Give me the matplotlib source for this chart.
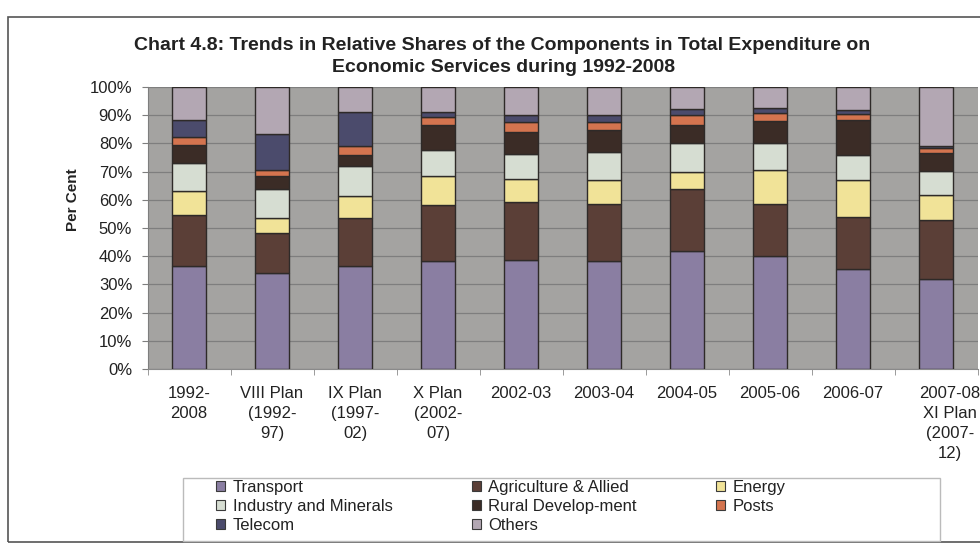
import matplotlib
matplotlib.use("Agg")
import matplotlib.pyplot as plt
import matplotlib.transforms as mtransforms
from matplotlib.patches import Rectangle, Patch
import numpy as np

plt.rcParams['font.family'] = ['Liberation Sans', 'DejaVu Sans']

categories = ["1992-\n2008", "VIII Plan\n(1992-\n97)", "IX Plan\n(1997-\n02)",
              "X Plan\n(2002-\n07)", "2002-03", "2003-04", "2004-05", "2005-06",
              "2006-07", "2007-08\nXI Plan\n(2007-\n12)"]

transport   = [36.4, 34.2, 36.5, 38.2, 38.6, 38.3, 41.8, 39.9, 35.3, 31.9]
agriculture = [18.2, 14.2, 16.9, 20.0, 20.5, 20.2, 22.0, 18.5, 18.6, 20.8]
energy      = [8.5, 5.0, 8.1, 10.1, 8.2, 8.5, 6.0, 12.3, 13.1, 9.0]
industry    = [10.0, 10.4, 10.6, 9.5, 9.0, 9.9, 10.4, 9.5, 8.9, 8.6]
rural       = [6.5, 4.8, 3.9, 8.8, 7.6, 7.7, 6.5, 7.9, 12.5, 6.2]
posts       = [2.5, 2.1, 3.2, 2.7, 3.6, 2.9, 3.3, 2.6, 2.1, 2.0]
telecom     = [6.2, 12.7, 11.9, 1.7, 2.7, 2.4, 2.3, 1.9, 1.2, 0.7]
others      = [11.7, 16.6, 8.9, 9.0, 9.8, 10.1, 7.7, 7.4, 8.3, 20.8]

series_names = ["Transport", "Agriculture & Allied", "Energy", "Industry and Minerals",
                "Rural Develop-ment", "Posts", "Telecom", "Others"]
series_vals = [transport, agriculture, energy, industry, rural, posts, telecom, others]
colors = ["#8a7ea2", "#5b3f37", "#f1e398", "#d6ddd2", "#3b2c26", "#d4744f",
          "#4b4b6c", "#b3a7b3"]

fig = plt.figure(figsize=(9.8, 5.44), dpi=100)
W, H = 980, 544
def fx(px): return px / W
def fy(py): return 1 - py / H

ax = fig.add_axes([fx(147.5), fy(369), fx(977.5) - fx(147.5), fy(87) - fy(369)])
ax.set_facecolor("#a4a3a1")

x = np.arange(len(categories))
bottom = np.zeros(len(categories))
handles = []
for name, vals, c in zip(series_names, series_vals, colors):
    v = np.array(vals)
    ax.bar(x, v, width=0.42, bottom=bottom, color=c, edgecolor="#2e2a28",
           linewidth=1.0, zorder=3)
    bottom += v
    handles.append(Patch(facecolor=c, edgecolor="#3a3a3a", linewidth=0.8, label=name))

ax.set_xlim(-0.5, len(categories) - 0.5)
ax.set_ylim(0, 100)
ax.set_yticks(np.arange(0, 101, 10))
ax.set_yticklabels([f"{v}%" for v in range(0, 101, 10)], fontsize=12, color="#222222")
ax.yaxis.grid(True, color="#7e7e7e", linewidth=0.9, zorder=0)
ax.set_axisbelow(True)
ax.tick_params(axis="y", length=4, color="#7e7e7e", pad=7)

ax.set_xticks(x)
ax.set_xticklabels(categories, fontsize=12, color="#222222", linespacing=1.42)
ax.set_xticks(np.arange(-0.5, len(categories), 1), minor=True)
ax.tick_params(axis="x", which="major", length=0, pad=12)
ax.tick_params(axis="x", which="minor", length=4, color="#8a8a8a")
lbls = ax.get_xticklabels()
off = mtransforms.ScaledTranslation(14 / 100, 0, fig.dpi_scale_trans)
lbls[-1].set_transform(lbls[-1].get_transform() + off)

for s in ["top", "right"]:
    ax.spines[s].set_visible(False)
ax.spines["left"].set_color("#7e7e7e")
ax.spines["bottom"].set_color("#8a8a8a")

fig.text(fx(73), fy(200), "Per Cent", rotation=90, ha="center", va="center",
         fontsize=11, fontweight="bold", color="#222222")

fig.text(fx(502), fy(45), "Chart 4.8: Trends in Relative Shares of the Components in Total Expenditure on",
         ha="center", va="center", fontsize=14, fontweight="bold", color="#222222")
fig.text(fx(504), fy(67), "Economic Services during 1992-2008",
         ha="center", va="center", fontsize=14, fontweight="bold", color="#222222")

# outer frame
fig.patches.append(Rectangle((fx(8), fy(542)), 1.2, fy(17) - fy(542), transform=fig.transFigure,
                             fill=False, edgecolor="#555555", linewidth=1.2))
# legend frame
fig.patches.append(Rectangle((fx(183), fy(541)), fx(940) - fx(183), fy(478) - fy(541),
                             transform=fig.transFigure, fill=False, edgecolor="#bbbbbb",
                             linewidth=1.0))

order = [0, 3, 6, 1, 4, 7, 2, 5]
leg = fig.legend([handles[i] for i in order], [series_names[i] for i in order],
                 loc="upper left", bbox_to_anchor=(fx(216), fy(480)), ncol=3,
                 frameon=False, fontsize=12, handlelength=0.55, handleheight=0.55,
                 handletextpad=0.45, columnspacing=4.75, labelspacing=0.24,
                 borderaxespad=0, borderpad=0)
for t in leg.get_texts():
    t.set_color("#222222")

fig.savefig("out.png", dpi=100, facecolor="white")
